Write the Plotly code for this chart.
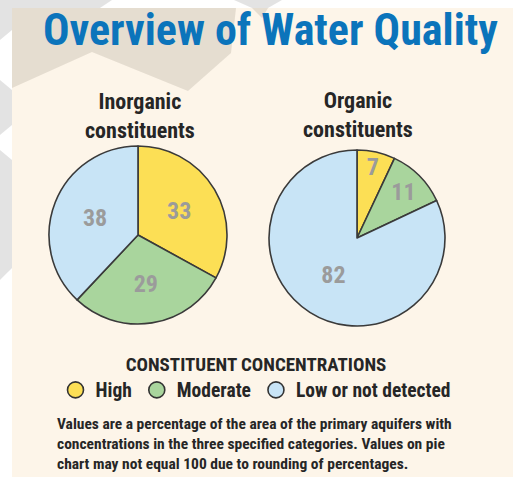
import plotly.graph_objects as go

W, H = 516, 477

categories = ["High", "Moderate", "Low or not detected"]
colors = ["#fcdf55", "#a9d59d", "#c8e4f6"]
inorganic_values = [33, 29, 38]
organic_values = [7, 11, 82]
pie_titles = ["Inorganic<br>constituents", "Organic<br>constituents"]
title_text = "Overview of Water Quality"
legend_title = "CONSTITUENT CONCENTRATIONS"
footnote = ("Values are a percentage of the area of the primary aquifers with<br>"
            "concentrations in the three specified categories. Values on pie<br>"
            "chart may not equal 100 due to rounding of percentages.")

FONT = "Roboto Condensed, Open Sans Condensed, sans-serif"
CREAM = "#fdf5e9"


def px(x):
    return x / W


def py(y):
    return 1 - y / H


def poly(points):
    return "M " + " L ".join(f"{px(x):.4f},{py(y):.4f}" for x, y in points) + " Z"


fig = go.Figure()

pie_common = dict(
    labels=categories,
    marker=dict(colors=colors, line=dict(color="#3a3a3a", width=1.6)),
    sort=False,
    direction="clockwise",
    rotation=0,
    textinfo="value",
    textposition="inside",
    insidetextorientation="horizontal",
    textfont=dict(family=FONT, size=24, color="#9b9b9b", weight="bold"),
    hoverinfo="label+value",
    showlegend=False,
)

fig.add_trace(go.Pie(values=inorganic_values, name="Inorganic",
                     domain=dict(x=[px(49), px(227)], y=[py(324), py(146)]),
                     **pie_common))
fig.add_trace(go.Pie(values=organic_values, name="Organic",
                     domain=dict(x=[px(269), px(445)], y=[py(326), py(150)]),
                     **pie_common))

# legend entries (circle markers)
for cat, col in zip(categories, colors):
    fig.add_trace(go.Scatter(x=[None], y=[None], mode="markers", name=cat,
                             marker=dict(symbol="circle", size=16, color=col,
                                         line=dict(color="#333333", width=1.6)),
                             showlegend=True))

shapes = []
wm = "rgba(0,0,0,0.11)"
for pts in [
    [(0, 0), (112, 0), (100, 8), (12, 8), (12, 30), (0, 40)],
    [(0, 80), (12, 90), (12, 125), (0, 135)],
    [(0, 150), (12, 160), (12, 262), (18, 262), (0, 280)],
    [(234, 0), (282, 0), (268, 8), (252, 8)],
]:
    shapes.append(dict(type="path", xref="paper", yref="paper", path=poly(pts),
                       fillcolor=wm, line=dict(width=0), layer="below"))
shapes.append(dict(type="rect", xref="paper", yref="paper",
                   x0=px(12), x1=px(513), y0=py(478), y1=py(8),
                   fillcolor=CREAM, line=dict(width=0), layer="below"))
for pts in [
    [(12, 8), (236, 8), (231, 53), (188, 91), (92, 52), (12, 88)],
    [(252, 8), (268, 8), (262, 18)],
]:
    shapes.append(dict(type="path", xref="paper", yref="paper", path=poly(pts),
                       fillcolor="rgba(60,50,30,0.12)", line=dict(width=0), layer="below"))

annotations = [
    dict(text=f"<b>{title_text}</b>", x=px(270), y=py(30), xref="paper", yref="paper",
         showarrow=False, xanchor="center", yanchor="middle",
         font=dict(family=FONT, size=44, color="#0b74bb")),
    dict(text=f"<b>{pie_titles[0]}</b>", x=px(140), y=py(116), xref="paper", yref="paper",
         showarrow=False, xanchor="center", yanchor="middle",
         font=dict(family=FONT, size=22, color="#262626")),
    dict(text=f"<b>{pie_titles[1]}</b>", x=px(358), y=py(115), xref="paper", yref="paper",
         showarrow=False, xanchor="center", yanchor="middle",
         font=dict(family=FONT, size=22, color="#262626")),
    dict(text=f"<b>{footnote}</b>", x=px(55), y=py(444), xref="paper", yref="paper",
         showarrow=False, xanchor="left", yanchor="middle", align="left",
         font=dict(family=FONT, size=15.5, color="#262626")),
]

fig.update_layout(
    width=W, height=H,
    margin=dict(l=0, r=0, t=0, b=0),
    paper_bgcolor="white",
    plot_bgcolor="rgba(0,0,0,0)",
    xaxis=dict(visible=False, domain=[0, 0.01]),
    yaxis=dict(visible=False, domain=[0, 0.01]),
    shapes=shapes,
    annotations=annotations,
    showlegend=True,
    legend=dict(
        orientation="h",
        x=px(256), xanchor="center",
        y=py(346), yanchor="top",
        bgcolor="rgba(0,0,0,0)",
        font=dict(family=FONT, size=19.5, color="#262626", weight="bold"),
        title=dict(text=f"<b>{legend_title}</b>", side="top center",
                   font=dict(family=FONT, size=19, color="#262626")),
        itemsizing="trace",
        traceorder="normal",
    ),
)

fig.write_html("out.html", config={"displayModeBar": False},
               post_script="document.body.style.margin='0px';document.body.style.overflow='hidden';")
